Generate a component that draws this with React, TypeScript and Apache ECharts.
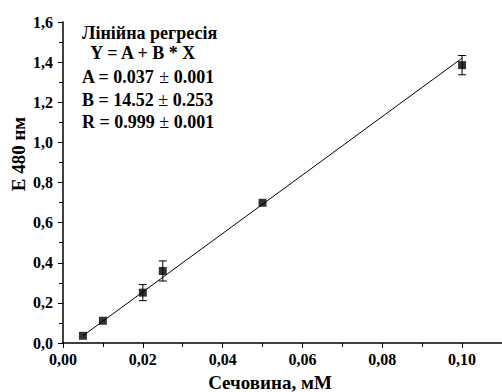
import React, { useEffect, useRef } from "react";
import * as echarts from "echarts";

const xValues = [0.005, 0.01, 0.02, 0.025, 0.05, 0.1];
const yValues = [0.036, 0.111, 0.251, 0.359, 0.699, 1.385];
const yErrors = [0, 0, 0.04, 0.05, 0, 0.048];
const fitLine = [
  [0.005, 0.036],
  [0.1, 1.42],
];
const annotationLines = [
  "Лінійна регресія",
  "  Y = A + B * X",
  "A = 0.037 {pm|±} 0.001",
  "B = 14.52 {pm|±} 0.253",
  "R = 0.999 {pm|±} 0.001",
];
const xTitle = "Сечовина, мМ";
const yTitle = "E 480 нм";

const FONT = "Liberation Serif";

export default function App() {
  const ref = useRef<HTMLDivElement>(null);
  useEffect(() => {
    if (!ref.current) return;
    const chart = echarts.init(ref.current, null, { renderer: "svg" });
    const points = xValues.map((x, i) => [x, yValues[i]]);
    const errData = xValues.map((x, i) => [x, yValues[i] - yErrors[i], yValues[i] + yErrors[i]]);
    const annCenters = [33, 53, 77, 100, 122];
    chart.setOption({
      animation: false,
      backgroundColor: "#fff",
      grid: { left: 63, top: 22, width: 440, height: 321, containLabel: false },
      xAxis: {
        type: "value",
        min: 0,
        max: 0.11,
        interval: 0.02,
        axisLine: { show: true, lineStyle: { color: "#000", width: 1.5 } },
        axisTick: { show: true, inside: false, length: 5, lineStyle: { color: "#000" } },
        minorTick: { show: true, splitNumber: 2, length: 4, lineStyle: { color: "#000" } },
        splitLine: { show: false },
        axisLabel: {
          showMaxLabel: false,
          color: "#000",
          fontFamily: FONT,
          fontWeight: "bold",
          fontSize: 16,
          margin: 8,
          formatter: (v: number) => (Math.abs(v - 0.11) < 1e-9 ? "" : v.toFixed(2).replace(".", ",")),
        },
      },
      yAxis: {
        type: "value",
        min: 0,
        max: 1.6,
        interval: 0.2,
        axisLine: { show: true, lineStyle: { color: "#000", width: 1.5 } },
        axisTick: { show: true, inside: false, length: 5, lineStyle: { color: "#000" } },
        minorTick: { show: true, splitNumber: 2, length: 4, lineStyle: { color: "#000" } },
        splitLine: { show: false },
        axisLabel: {
          color: "#000",
          fontFamily: FONT,
          fontWeight: "bold",
          fontSize: 16,
          margin: 10,
          formatter: (v: number) => v.toFixed(1).replace(".", ","),
        },
      },
      series: [
        {
          type: "line",
          data: fitLine,
          showSymbol: false,
          symbol: "none",
          lineStyle: { color: "#000", width: 1 },
          z: 2,
        },
        {
          type: "custom",
          data: errData,
          z: 3,
          renderItem: (params: any, api: any) => {
            const x = api.value(0);
            const lo = api.coord([x, api.value(1)]);
            const hi = api.coord([x, api.value(2)]);
            if (Math.abs(hi[1] - lo[1]) < 1) return null;
            const cw = 4;
            const style = { stroke: "#000", lineWidth: 1 };
            return {
              type: "group",
              children: [
                { type: "line", shape: { x1: lo[0], y1: lo[1], x2: hi[0], y2: hi[1] }, style },
                { type: "line", shape: { x1: lo[0] - cw, y1: lo[1], x2: lo[0] + cw, y2: lo[1] }, style },
                { type: "line", shape: { x1: hi[0] - cw, y1: hi[1], x2: hi[0] + cw, y2: hi[1] }, style },
              ],
            };
          },
        },
        {
          type: "scatter",
          data: points,
          symbol: "rect",
          symbolSize: 8,
          itemStyle: { color: "#000" },
          z: 4,
        },
      ],
      graphic: [
        ...annotationLines.map((t, i) => ({
          type: "text",
          x: 82,
          y: annCenters[i],
          style: {
            text: t,
            fontFamily: FONT,
            fontWeight: "bold",
            fontSize: 18,
            fill: "#000",
            verticalAlign: "middle",
            rich: { pm: { fontFamily: FONT, fontWeight: "normal", fontSize: 18, fill: "#000" } },
          },
        })),
        {
          type: "text",
          x: 18,
          y: 154,
          rotation: Math.PI / 2,
          style: {
            text: yTitle,
            fontFamily: FONT,
            fontWeight: "bold",
            fontSize: 19,
            fill: "#000",
            align: "center",
            verticalAlign: "middle",
          },
        },
        {
          type: "text",
          x: 270,
          y: 382,
          style: {
            text: xTitle,
            fontFamily: FONT,
            fontWeight: "bold",
            fontSize: 19,
            fill: "#000",
            align: "center",
            verticalAlign: "middle",
          },
        },
      ],
    });
    return () => chart.dispose();
  }, []);
  return <div ref={ref} style={{ width: 502, height: 392, position: "absolute", left: 0, top: 0 }} />;
}
